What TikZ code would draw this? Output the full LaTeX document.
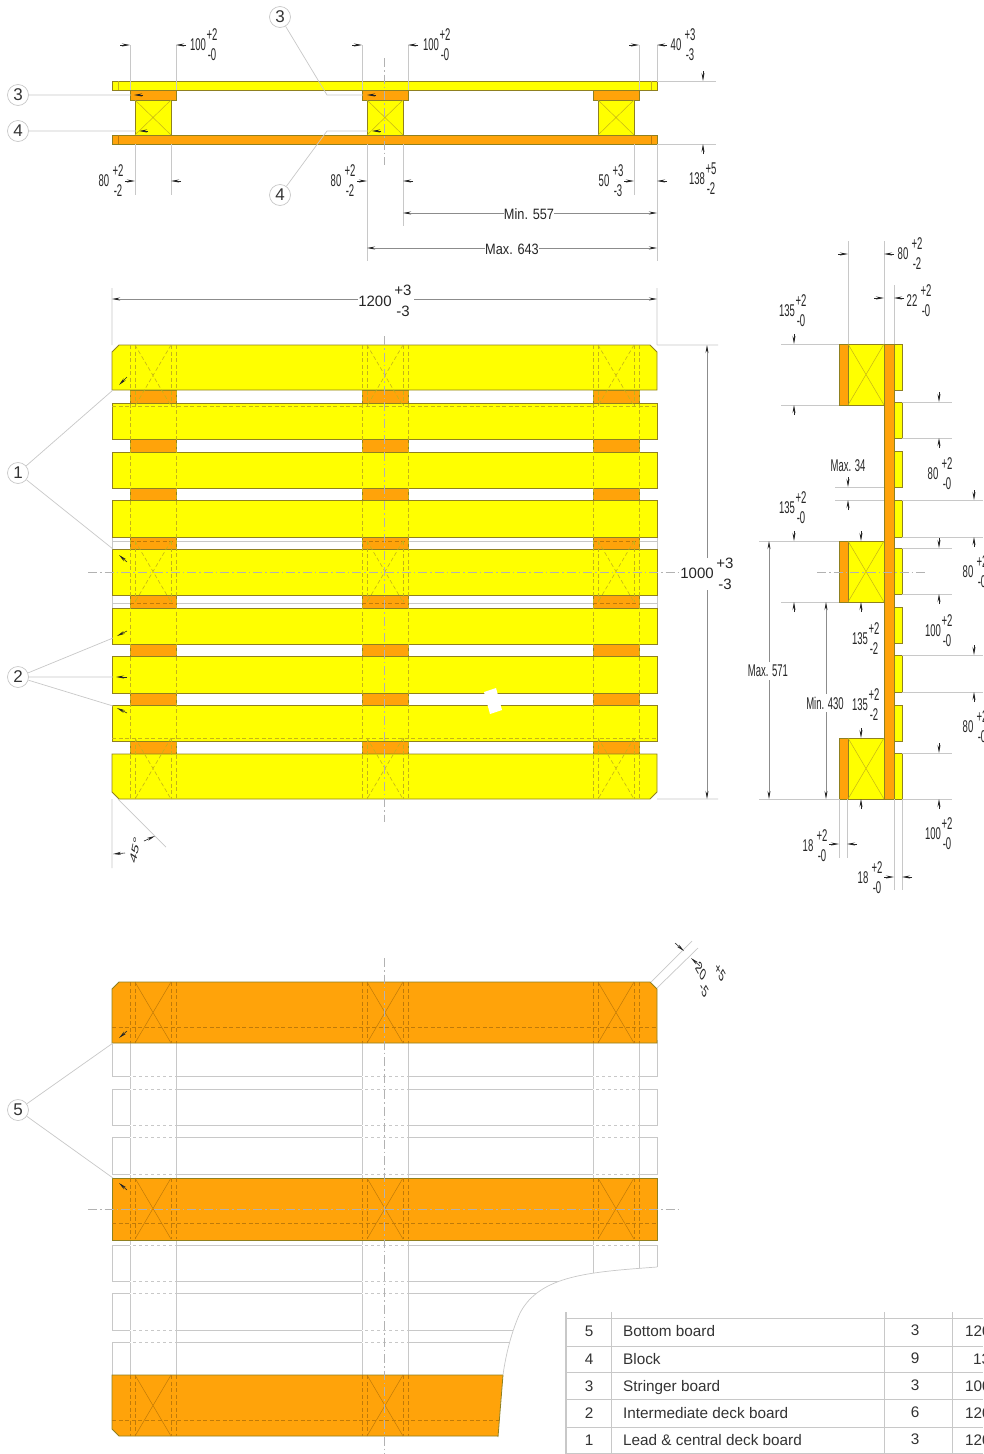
\documentclass[tikz,border=0pt]{standalone}
\usepackage{fontspec}
\setmainfont{Liberation Sans}
\usetikzlibrary{arrows.meta}
\definecolor{deckyellow}{HTML}{FFFF00}
\definecolor{boardorange}{HTML}{FFA30A}
\definecolor{edgeline}{HTML}{8F8020}
\definecolor{hideyellow}{HTML}{C4B418}
\definecolor{hideorange}{HTML}{C07A08}
\definecolor{thinline}{HTML}{C8C8C8}
\tikzset{
  ydeck/.style={draw=edgeline, fill=deckyellow, line width=.8pt},
  oboard/.style={draw=edgeline, fill=boardorange, line width=.8pt},
  hidey/.style={draw=hideyellow, line width=.6pt, dash pattern=on 4pt off 2.5pt},
  hideo/.style={draw=hideorange, line width=.6pt, dash pattern=on 4pt off 2.5pt},
  crossy/.style={draw=hideyellow, line width=.5pt},
  crosso/.style={draw=hideorange, line width=.5pt},
  thin gray/.style={draw=thinline, line width=.7pt},
  center line/.style={draw=gray!60, line width=.6pt, dash pattern=on 9pt off 3pt on 1.5pt off 3pt},
  tick/.style={draw=black!85, line width=.6pt, -{Stealth[length=8pt,width=3pt]}},
  longtick/.style={draw=black!45, line width=.6pt, -{Stealth[length=8pt,width=3pt,black!85]}},
  dimtext/.style={inner sep=0pt, text=black!85, xscale=.56, font=\fontsize{17}{17}\selectfont},
  widetext/.style={inner sep=0pt, text=black!85, xscale=.85, font=\fontsize{15}{16}\selectfont},
  bigtext/.style={inner sep=0pt, text=black!85, font=\fontsize{15}{16}\selectfont},
  callout/.style={circle, draw=thinline, fill=white, line width=.7pt, minimum size=21pt, inner sep=0pt,
    text=black!80, font=\fontsize{17}{17}\selectfont},
  rowtext/.style={inner sep=0pt, text height=11pt, text depth=3pt, text=black!80, font=\fontsize{15.3}{16}\selectfont}
}
% value with its two tolerances: x, y, value, upper, lower
\newcommand{\toldim}[5]{
  \node[dimtext] (t#1x#2) at (#1,#2) {#3};
  \node[dimtext] (t#1x#2u) at (#1+14,#2-10) {#4};
  \node[dimtext] (t#1x#2l) at (#1+14,#2+10) {#5};
}
\newcommand{\harrows}[3]{\draw[tick] (#2-10,#1) -- (#2,#1); \draw[tick] (#3+10,#1) -- (#3,#1);}
\newcommand{\varrows}[3]{\draw[tick] (#1,#2-10) -- (#1,#2); \draw[tick] (#1,#3+10) -- (#1,#3);}
\begin{document}
\begin{tikzpicture}[x=1pt, y=-1pt]
  \useasboundingbox (0, 0) rectangle (983, 1454);
  \clip (0, 0) rectangle (983, 1454);
  \fill [white] (0, 0) rectangle (983, 1454);

  % side elevation
  \draw [ydeck] (112, 81) rectangle (657, 90);
  \draw [oboard] (112, 135) rectangle (657, 144);
  \foreach \x in {130, 362, 593} {
    \draw [oboard] (\x, 90) rectangle (\x + 46, 100);
    \draw [ydeck] (\x + 5, 100) rectangle (\x + 41, 135);
    \draw [crossy] (\x + 5, 100) -- (\x + 41, 135) (\x + 41, 100) -- (\x + 5, 135);
  }
  \draw [crossy] (118, 81) -- (118, 90) (651, 81) -- (651, 90);
  \draw [crosso] (118, 135) -- (118, 144) (651, 135) -- (651, 144);
  \draw [center line] (384, 58) -- (384, 165);
  \draw [thin gray] (130, 45) -- (130, 90) (176, 45) -- (176, 90)
                    (362, 45) -- (362, 90) (408, 45) -- (408, 90)
                    (639, 45) -- (639, 90) (657, 45) -- (657, 81)
                    (135, 144) -- (135, 195) (171, 144) -- (171, 195)
                    (367, 144) -- (367, 261) (403, 144) -- (403, 226)
                    (634, 144) -- (634, 195) (657, 144) -- (657, 261)
                    (657, 81) -- (716, 81) (657, 144) -- (716, 144);
  \harrows{45}{130}{176} \harrows{45}{362}{408} \harrows{45}{639}{657}
  \harrows{181}{135}{171} \harrows{181}{367}{403} \harrows{181}{634}{657}
  \varrows{703}{81}{144}
  \toldim{198}{45}{100}{+2}{-0}
  \toldim{431}{45}{100}{+2}{-0}
  \toldim{676}{45}{40}{+3}{-3}
  \toldim{104}{181}{80}{+2}{-2}
  \toldim{336}{181}{80}{+2}{-2}
  \toldim{604}{181}{50}{+3}{-3}
  \toldim{697}{179}{138}{+5}{-2}
  \node[widetext] (minlen) at (529, 214) {Min. 557};
  \node[widetext] (maxlen) at (512, 249) {Max. 643};
  \draw [longtick] (minlen.west |- 403, 213) -- (403, 213);
  \draw [longtick] (minlen.east |- 657, 213) -- (657, 213);
  \draw [longtick] (maxlen.west |- 367, 248) -- (367, 248);
  \draw [longtick] (maxlen.east |- 657, 248) -- (657, 248);

  % callouts of the elevation
  \node[callout] (cthreea) at (18, 95) {3};
  \node[callout] (cfoura) at (18, 131) {4};
  \node[callout] (cthreeb) at (280, 17) {3};
  \node[callout] (cfourb) at (280, 195) {4};
  \coordinate (ka) at (131, 95);
  \coordinate (kb) at (136, 131);
  \coordinate (kc) at (363, 95);
  \coordinate (kd) at (368, 131);
  \draw [thin gray] (cthreea) -- (ka) (cfoura) -- (kb)
                    (cthreeb) -- (327, 95) -- (kc)
                    (cfourb) -- (327, 131) -- (kd);
  \draw [tick] (143, 95) -- (134, 95);
  \draw [tick] (148, 131) -- (139, 131);
  \draw [tick] (376, 95) -- (367, 95);
  \draw [tick] (381, 131) -- (372, 131);

  % plan from above
  \draw [thin gray] (112, 537) rectangle (657, 549) (112, 595) rectangle (657, 608)
                    (112, 541) -- (657, 541) (112, 603) -- (657, 603);
  \foreach \x in {130, 362, 593}
    \draw [oboard] (\x, 390) rectangle (\x + 46, 754);
  \draw [ydeck] (112, 390) -- (112, 352) -- (119, 345) -- (650, 345) -- (657, 352) -- (657, 390) -- cycle;
  \foreach \a/\b in {403/439, 452/488, 500/537, 549/595, 608/644, 656/693, 705/741}
    \draw [ydeck] (112, \a) rectangle (657, \b);
  \draw [ydeck] (112, 754) -- (112, 792) -- (119, 799) -- (650, 799) -- (657, 792) -- (657, 754) -- cycle;
  \foreach \y in {406, 738}
    \draw [hidey] (112, \y) -- (657, \y);
  \foreach \x in {130, 362, 593} {
    \draw [hideo] (\x, 541) -- (\x + 46, 541) (\x, 603) -- (\x + 46, 603);
    \draw [hidey] (\x, 345) -- (\x, 799) (\x + 46, 345) -- (\x + 46, 799);
    \foreach \y in {345, 541, 738} {
      \draw [hidey] (\x + 5, \y) -- (\x + 5, \y + 61) (\x + 41, \y) -- (\x + 41, \y + 61);
      \draw [hidey] (\x + 5, \y) -- (\x + 41, \y + 61) (\x + 41, \y) -- (\x + 5, \y + 61);
    }
  }
  \fill [white] (484, 692) -- (496, 688) -- (502, 710) -- (490, 714) -- cycle;
  \draw [center line] (88, 572) -- (680, 572) (384, 336) -- (384, 822);
  \draw [thin gray] (112, 288) -- (112, 345) (657, 288) -- (657, 345)
                    (657, 345) -- (718, 345) (657, 799) -- (718, 799)
                    (112, 799) -- (112, 868) (118, 799) -- (166, 847);
  \node[bigtext] (wide) at (375, 301) {1200};
  \node[bigtext] (wideu) at (403, 290) {+3};
  \node[bigtext] (widel) at (403, 311) {-3};
  \node[bigtext] (deep) at (697, 573) {1000};
  \node[bigtext] (deepu) at (725, 563) {+3};
  \node[bigtext] (deepl) at (725, 584) {-3};
  \draw [longtick] (358, 299) -- (112, 299);
  \draw [longtick] (414, 299) -- (657, 299);
  \draw [longtick] (707, 558) -- (707, 345);
  \draw [longtick] (707, 590) -- (707, 799);
  \node[dimtext, rotate=70] (angle) at (135, 850) {45°};
  \draw [tick] (125, 853) -- (113, 854);
  \draw [tick] (144, 841) -- (155, 836);

  \node[callout] (cone) at (18, 473) {1};
  \node[callout] (ctwo) at (18, 677) {2};
  \coordinate (ea) at (113, 390);
  \coordinate (eb) at (113, 549);
  \coordinate (ec) at (113, 638);
  \coordinate (ed) at (113, 677);
  \coordinate (ee) at (113, 706);
  \draw [thin gray] (cone) -- (ea) (cone) -- (eb) (ctwo) -- (ec) (ctwo) -- (ed) (ctwo) -- (ee);
  \draw [tick] (127, 377) -- (119, 385);
  \draw [tick] (127, 562) -- (119, 555);
  \draw [tick] (127, 631) -- (117, 636);
  \draw [tick] (127, 677) -- (116, 677);
  \draw [tick] (127, 713) -- (117, 708);

  % end elevation
  \draw [oboard] (884, 344) rectangle (894, 799);
  \foreach \y in {344, 541, 738} {
    \draw [oboard] (839, \y) rectangle (848, \y + 61);
    \draw [ydeck] (848, \y) rectangle (884, \y + 61);
    \draw [crossy] (848, \y) -- (884, \y + 61) (884, \y) -- (848, \y + 61);
  }
  \foreach \a/\b in {344/390, 402/438, 451/487, 500/537, 548/594, 607/643, 655/692, 705/741, 753/799}
    \draw [ydeck] (894, \a) rectangle (902, \b);
  \draw [center line] (817, 572) -- (925, 572);
  \draw [thin gray] (848, 241) -- (848, 344) (884, 241) -- (884, 344) (894, 285) -- (894, 344)
                    (781, 344) -- (839, 344) (781, 405) -- (839, 405)
                    (759, 541) -- (839, 541) (781, 602) -- (839, 602)
                    (759, 799) -- (839, 799)
                    (835, 487) -- (884, 487) (835, 500) -- (884, 500)
                    (902, 402) -- (952, 402) (902, 438) -- (952, 438)
                    (902, 500) -- (983, 500) (902, 537) -- (983, 537)
                    (902, 548) -- (952, 548) (902, 594) -- (952, 594)
                    (902, 655) -- (983, 655) (902, 692) -- (983, 692)
                    (902, 753) -- (952, 753) (902, 799) -- (952, 799)
                    (839, 799) -- (839, 858) (847, 799) -- (847, 858)
                    (894, 799) -- (894, 890) (902, 799) -- (902, 890);
  \harrows{254}{848}{884} \harrows{298}{884}{894}
  \harrows{844}{839}{847} \harrows{877}{894}{902}
  \varrows{794}{344}{405} \varrows{794}{541}{602}
  \varrows{848}{487}{500}
  \draw [tick] (861, 531) -- (861, 541);
  \draw [tick] (861, 612) -- (861, 602);
  \varrows{861}{738}{799}
  \varrows{939}{402}{438} \varrows{939}{548}{594} \varrows{939}{753}{799}
  \varrows{974}{500}{537} \varrows{974}{655}{692}
  \toldim{903}{254}{80}{+2}{-2}
  \toldim{912}{301}{22}{+2}{-0}
  \toldim{787}{311}{135}{+2}{-0}
  \toldim{787}{508}{135}{+2}{-0}
  \toldim{933}{474}{80}{+2}{-0}
  \toldim{933}{631}{100}{+2}{-0}
  \toldim{933}{834}{100}{+2}{-0}
  \toldim{968}{572}{80}{+2}{-0}
  \toldim{968}{727}{80}{+2}{-0}
  \toldim{860}{639}{135}{+2}{-2}
  \toldim{860}{705}{135}{+2}{-2}
  \toldim{808}{846}{18}{+2}{-0}
  \toldim{863}{878}{18}{+2}{-0}
  \node[dimtext] (maxgap) at (848, 466) {Max. 34};
  \node[dimtext] (maxheight) at (768, 671) {Max. 571};
  \node[dimtext] (minheight) at (825, 703) {Min. 430};
  \draw [longtick] (769, 662) -- (769, 541);
  \draw [longtick] (769, 680) -- (769, 799);
  \draw [longtick] (826, 694) -- (826, 602);
  \draw [longtick] (826, 712) -- (826, 799);

  % plan from below
  \foreach \a/\b in {1040/1076, 1089/1125, 1137/1174, 1245/1281, 1293/1330, 1342/1378}
    \draw [thin gray] (112, \a) rectangle (657, \b);
  \foreach \x in {130, 176, 362, 408, 593, 639}
    \draw [thin gray] (\x, 1043) -- (\x, 1375);
  \foreach \y in {1076, 1089, 1125, 1137, 1174, 1245, 1281, 1293, 1330, 1342}
    \foreach \x in {130, 362, 593}
      \draw [white, line width=.9pt, dash pattern=on 3pt off 3pt] (\x, \y) -- (\x + 46, \y);
  \draw [oboard] (112, 1043) -- (112, 989) -- (119, 982) -- (650, 982) -- (657, 989) -- (657, 1043) -- cycle;
  \draw [oboard] (112, 1178) rectangle (657, 1240);
  \draw [oboard] (112, 1375) -- (112, 1429) -- (119, 1436) -- (650, 1436) -- (657, 1429) -- (657, 1375) -- cycle;
  \foreach \y in {982, 1178, 1375} {
    \draw [hideo] (112, \y + 45) -- (657, \y + 45);
    \foreach \x in {130, 362, 593} {
      \draw [hideo] (\x, \y) -- (\x, \y + 61) (\x + 46, \y) -- (\x + 46, \y + 61)
                    (\x + 5, \y) -- (\x + 5, \y + 61) (\x + 41, \y) -- (\x + 41, \y + 61);
      \draw [crosso] (\x + 5, \y) -- (\x + 41, \y + 61) (\x + 41, \y) -- (\x + 5, \y + 61);
    }
  }
  \draw [center line] (88, 1209) -- (680, 1209) (384, 958) -- (384, 1454);
  % break of the drawing
  \fill [white] (657, 1267) .. controls (590, 1272) and (540, 1275) .. (520, 1313)
                .. controls (510, 1335) and (505, 1360) .. (503, 1375) -- (498, 1437)
                -- (498, 1454) -- (983, 1454) -- (983, 1267) -- cycle;
  \draw [thin gray] (657, 1267) .. controls (590, 1272) and (540, 1275) .. (520, 1313)
                .. controls (510, 1335) and (505, 1360) .. (503, 1375);
  \draw [draw=edgeline, line width=.8pt] (503, 1375) -- (498, 1437);

  \draw [thin gray] (651, 982) -- (692, 941) (657, 988) -- (698, 948);
  \draw [tick] (675, 943) -- (684, 951);
  \draw [tick] (700, 966) -- (691, 958);
  \node[dimtext, rotate=-45] (cornerdim) at (701, 971) {20};
  \node[dimtext, rotate=-45] (cornerdimu) at (720, 972) {+5};
  \node[dimtext, rotate=-45] (cornerdiml) at (704, 990) {-5};

  \node[callout] (cfive) at (18, 1110) {5};
  \coordinate (fa) at (113, 1043);
  \coordinate (fb) at (113, 1178);
  \draw [thin gray] (cfive) -- (fa) (cfive) -- (fb);
  \draw [tick] (127, 1031) -- (119, 1038);
  \draw [tick] (127, 1190) -- (119, 1183);

  % parts list
  \foreach \y in {1318, 1346, 1372, 1399, 1427, 1453}
    \draw [thin gray] (566, \y) -- (983, \y);
  \foreach \x in {611, 884, 952}
    \draw [thin gray] (\x, 1312) -- (\x, 1454);
  \draw [draw=thinline, line width=1.2pt] (566, 1312) -- (566, 1454);
  \foreach \y/\n/\w/\q/\s/\o in {1332/5/Bottom board/3/120/965, 1360/4/Block/9/13/973,
      1387/3/Stringer board/3/100/965, 1414/2/Intermediate deck board/6/120/965,
      1441/1/Lead \& central deck board/3/120/965} {
    \node[rowtext] (rown\y) at (589, \y) {\n};
    \node[rowtext, anchor=west] (rowt\y) at (623, \y) {\w};
    \node[rowtext] (rowq\y) at (915, \y - 1) {\q};
    \node[rowtext, anchor=west] (rows\y) at (\o, \y) {\s};
  }
\end{tikzpicture}
\end{document}
